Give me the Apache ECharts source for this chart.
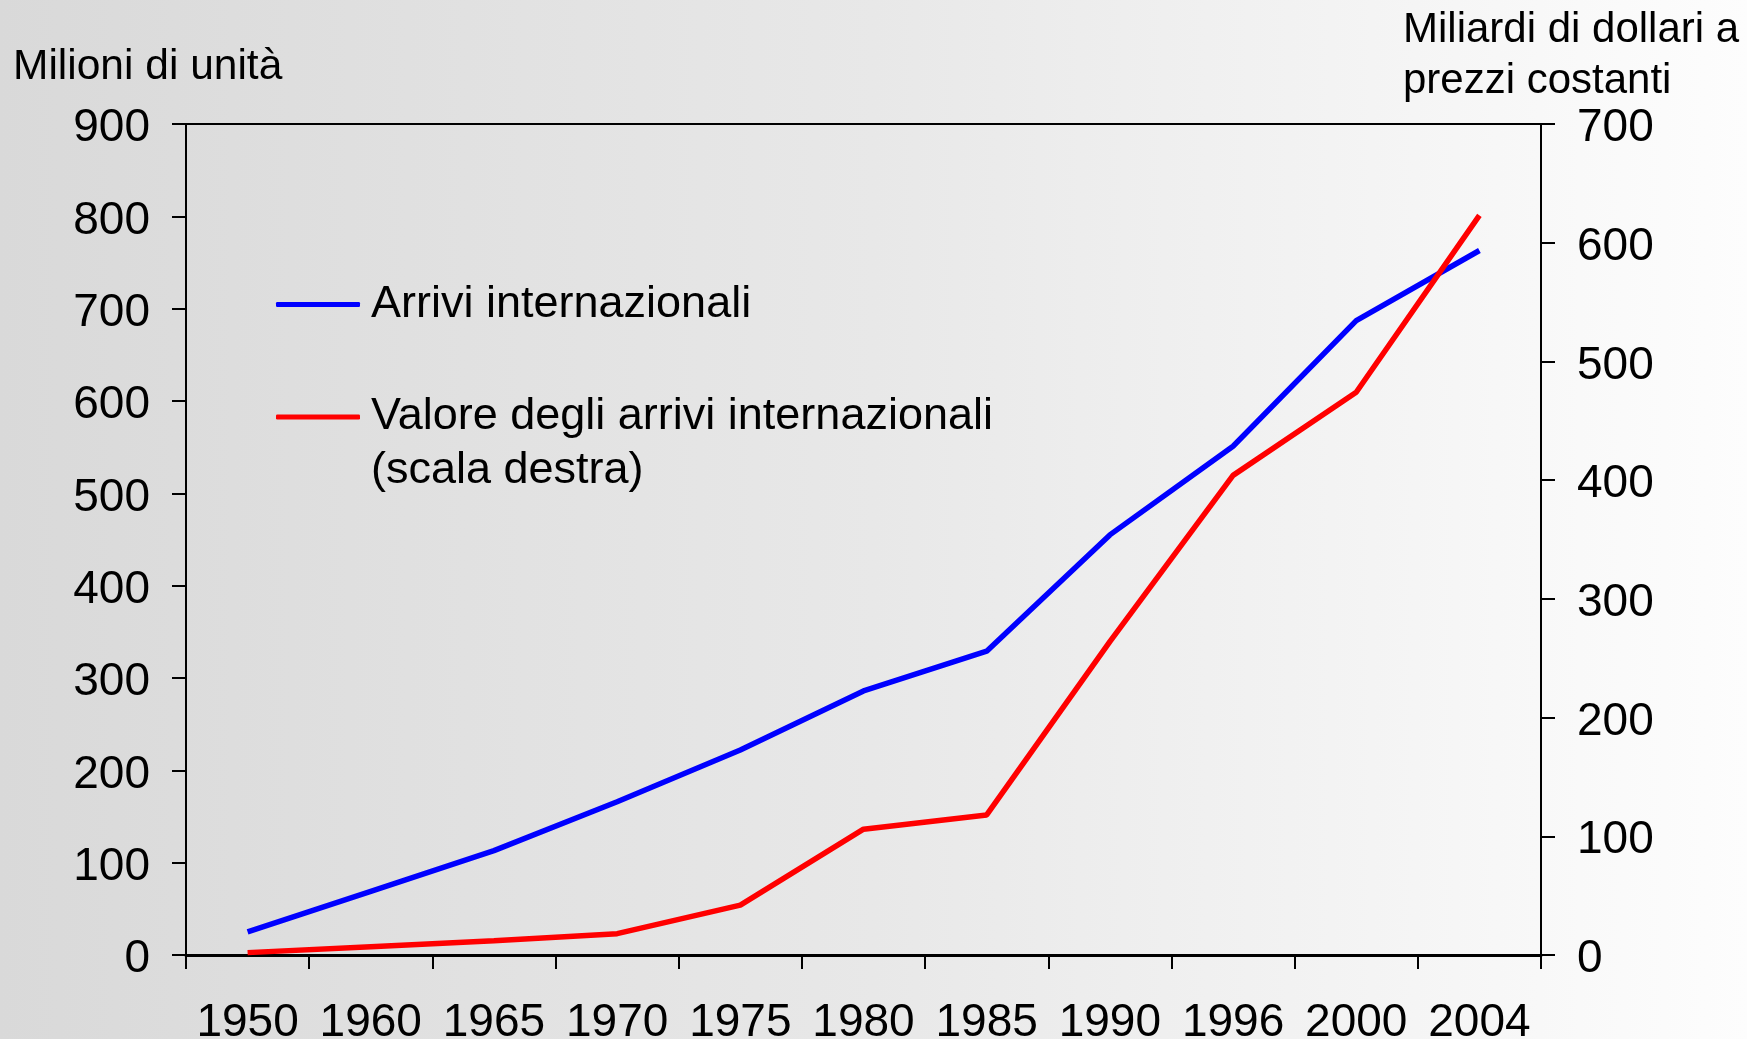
<!DOCTYPE html>
<html>
<head>
<meta charset="utf-8">
<script src="https://cdn.jsdelivr.net/npm/echarts@6/dist/echarts.min.js"></script>
<style>
  html, body { margin: 0; padding: 0; }
  #chart { width: 1747px; height: 1039px; }
</style>
</head>
<body>
<div id="chart"></div>
<script>
const years = ['1950', '1960', '1965', '1970', '1975', '1980', '1985', '1990', '1996', '2000', '2004'];
// Milioni di unità (scala sinistra)
const arrivi = [25, 69, 113, 166, 222, 286, 329, 455, 551, 687, 763];
// Miliardi di dollari a prezzi costanti (scala destra)
const valore = [2, 7, 12, 18, 42, 106, 118, 264, 404, 474, 623];
const leftTicks = { min: 0, max: 900, interval: 100 };
const rightTicks = { min: 0, max: 700, interval: 100 };

const font = '"Liberation Sans", Arial, sans-serif';
const chartObj = echarts.init(document.getElementById('chart'));

// etichette dei valori leggermente abbassate rispetto al tick
const tickLabel = {
  fontSize: 46, color: '#000', margin: 36, fontFamily: font,
  formatter: '{v|{value}}',
  rich: { v: { fontSize: 46, fontFamily: font, color: '#000', padding: [9, 0, 0, 0] } }
};

const option = {
  backgroundColor: {
    type: 'linear', x: 0, y: 0, x2: 1, y2: 0,
    colorStops: [
      { offset: 0, color: '#d9d9d9' },
      { offset: 0.5, color: '#e8e8e8' },
      { offset: 1, color: '#fdfdfd' }
    ]
  },
  textStyle: { fontFamily: font, color: '#000' },
  animation: false,
  grid: {
    left: 186, right: 206, top: 124, bottom: 84,
    outerBoundsMode: 'none', containLabel: false,
    show: true, borderColor: '#000', borderWidth: 2, backgroundColor: 'transparent'
  },
  legend: [
    {
      left: 271, top: 273, orient: 'vertical',
      icon: 'roundRect', itemWidth: 84, itemHeight: 5,
      data: [{ name: 'Arrivi internazionali' }],
      textStyle: { fontSize: 45, lineHeight: 53, color: '#000', fontFamily: font, padding: [0, 0, 0, 6] }
    },
    {
      left: 271, top: 331, orient: 'vertical',
      icon: 'roundRect', itemWidth: 84, itemHeight: 5,
      data: [{ name: 'Valore degli arrivi internazionali\n(scala destra)' }],
      formatter: function (name) { return ' \n' + name; },
      textStyle: { fontSize: 45, lineHeight: 54, color: '#000', fontFamily: font, padding: [0, 0, 0, 6] }
    }
  ],
  graphic: [
    { type: 'text', left: 13, top: 46, style: { text: 'Milioni di unità', font: '42.5px ' + font, fill: '#000' } },
    { type: 'text', left: 1403, top: 5, style: { text: 'Miliardi di dollari a\nprezzi costanti', font: '42px ' + font, lineHeight: 51, fill: '#000' } }
  ],
  xAxis: {
    type: 'category',
    data: years,
    boundaryGap: true,
    axisLine: { show: true, lineStyle: { color: '#000', width: 3 } },
    axisTick: { show: true, length: 14, lineStyle: { color: '#000', width: 2 } },
    axisLabel: { fontSize: 46, color: '#000', margin: 45, fontFamily: font, interval: 0 },
    splitLine: { show: false }
  },
  yAxis: [
    {
      type: 'value', position: 'left',
      min: leftTicks.min, max: leftTicks.max, interval: leftTicks.interval,
      axisLine: { show: true, lineStyle: { color: '#000', width: 2 } },
      axisTick: { show: true, length: 14, lineStyle: { color: '#000', width: 2 } },
      axisLabel: tickLabel,
      splitLine: { show: false }
    },
    {
      type: 'value', position: 'right',
      min: rightTicks.min, max: rightTicks.max, interval: rightTicks.interval,
      axisLine: { show: true, lineStyle: { color: '#000', width: 2 } },
      axisTick: { show: true, length: 14, lineStyle: { color: '#000', width: 2 } },
      axisLabel: tickLabel,
      splitLine: { show: false }
    }
  ],
  series: [
    {
      name: 'Arrivi internazionali',
      type: 'line', yAxisIndex: 0, symbol: 'none',
      lineStyle: { color: '#0000ff', width: 5.5 },
      itemStyle: { color: '#0000ff' },
      data: arrivi
    },
    {
      name: 'Valore degli arrivi internazionali\n(scala destra)',
      type: 'line', yAxisIndex: 1, symbol: 'none',
      lineStyle: { color: '#ff0000', width: 5.5 },
      itemStyle: { color: '#ff0000' },
      data: valore
    }
  ]
};
chartObj.setOption(option);
window.addEventListener('resize', function () {
  chartObj.resize();
});
</script>
</body>
</html>
